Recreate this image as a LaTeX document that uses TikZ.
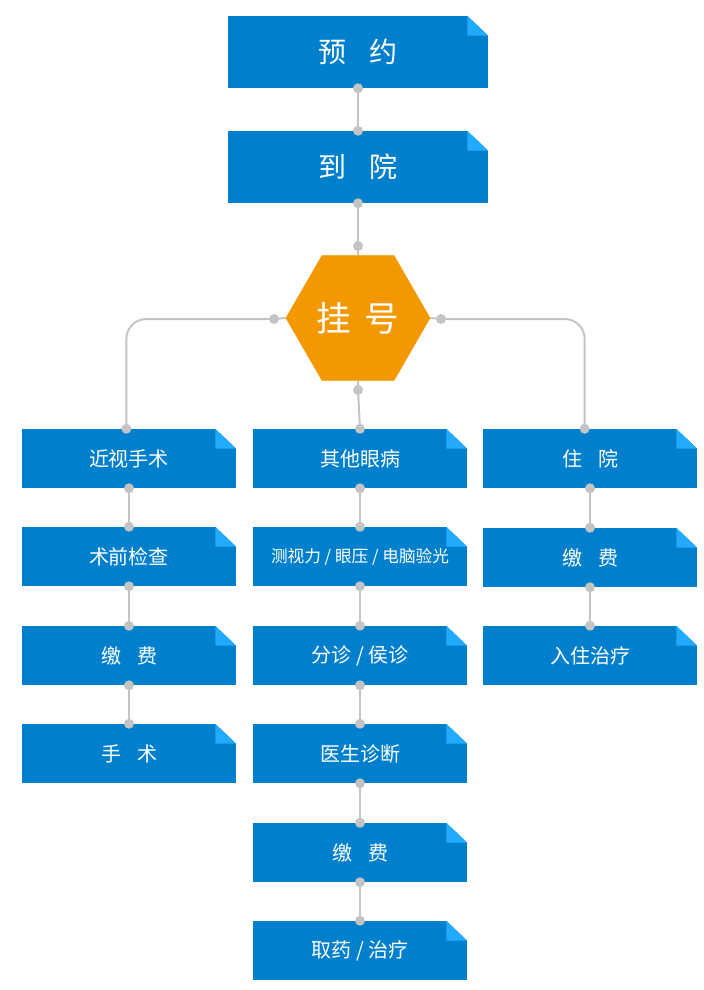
\documentclass[tikz,border=0pt]{standalone}
\usepackage{fontspec}
\setmainfont{Noto Sans CJK SC}
\usetikzlibrary{shapes.geometric}
\definecolor{boxblue}{HTML}{0080CC}
\definecolor{foldblue}{HTML}{22AAFF}
\definecolor{hexorange}{HTML}{F39800}
\definecolor{linkgray}{HTML}{C4C4C4}
\tikzset{
  box/.style={fill=boxblue, text=white, inner sep=0pt, minimum width=160.5pt, minimum height=44.25pt, font=\fontsize{15}{18}\selectfont},
  bigbox/.style={box, minimum width=195pt, minimum height=54pt, font=\fontsize{21}{24}\selectfont},
  hexa/.style={regular polygon, regular polygon sides=6, fill=hexorange, text=white, inner sep=0pt, minimum size=108pt, font=\fontsize{26}{30}\selectfont},
  conn/.style={draw=linkgray, line width=1.5pt},
  dot/.style={fill=linkgray}
}
\newcommand\fold[1]{%
  \fill[white] ([xshift=-15.75pt]#1.north east) -- (#1.north east) -- ([yshift=-15pt]#1.north east) -- cycle;
  \fill[foldblue] ([xshift=-15.75pt]#1.north east) -- ([xshift=-15.75pt,yshift=-15pt]#1.north east) -- ([yshift=-15pt]#1.north east) -- cycle;}
\newcommand\link[2]{%
  \draw[conn] (#1) -- (#2);
  \fill[dot] (#1) circle (3.75pt) (#2) circle (3.75pt);}
\begin{document}
\begin{tikzpicture}[x=0.75pt, y=-0.75pt]
  \useasboundingbox (0,0) rectangle (704,990);
  % top part
  \node[bigbox] (yuyue) at (358,52) {预\hspace{0.8em}约};
  \node[bigbox] (daoyuan) at (358,167) {到\hspace{0.8em}院};
  \node[hexa] (guahao) at (358,318) {挂\hspace{0.4em}号};
  \coordinate (gtop) at (358,246);
  \coordinate (gleft) at (274,319);
  \coordinate (gright) at (441,319);
  \coordinate (gbot) at (358,390);
  % left column
  \node[box] (l1) at (129,458.5) {近视手术};
  \node[box] (l2) at (129,556.5) {术前检查};
  \node[box] (l3) at (129,655.5) {缴\hspace{0.8em}费};
  \node[box] (l4) at (129,753.5) {手\hspace{0.8em}术};
  % middle column
  \node[box] (m1) at (360,458.5) {其他眼病};
  \node[box, font=\fontsize{12.5}{15}\selectfont] (m2) at (360,556.5) {测视力 / 眼压 / 电脑验光};
  \node[box] (m3) at (360,655.5) {分诊 / 侯诊};
  \node[box] (m4) at (360,753.5) {医生诊断};
  \node[box] (m5) at (360,852.5) {缴\hspace{0.8em}费};
  \node[box] (m6) at (360,950.5) {取药 / 治疗};
  % right column
  \node[box] (r1) at (590,458.5) {住\hspace{0.8em}院};
  \node[box] (r2) at (590,557.5) {缴\hspace{0.8em}费};
  \node[box] (r3) at (590,655.5) {入住治疗};
  \foreach \n in {yuyue,daoyuan,l1,l2,l3,l4,m1,m2,m3,m4,m5,m6,r1,r2,r3}
    {\fold{\n}}
  % connectors
  \link{yuyue.south}{daoyuan.north}
  \link{daoyuan.south}{gtop}
  \draw[conn] (gtop) -- (guahao.north);
  \draw[conn] (gbot) -- (guahao.south);
  \link{gbot}{m1.north}
  \draw[conn, rounded corners=15pt] (gleft) -| ([xshift=-2pt]l1.north);
  \draw[conn] (gleft) -- (guahao.west);
  \fill[dot] (gleft) circle (3.75pt) ([xshift=-2pt]l1.north) circle (3.75pt);
  \draw[conn, rounded corners=15pt] (gright) -| ([xshift=-4pt]r1.north);
  \draw[conn] (gright) -- (guahao.east);
  \fill[dot] (gright) circle (3.75pt) ([xshift=-4pt]r1.north) circle (3.75pt);
  \foreach \a/\b in {l1/l2,l2/l3,l3/l4,m1/m2,m2/m3,m3/m4,m4/m5,m5/m6,r1/r2,r2/r3}
    {\link{\a.south}{\b.north}}
  \fill[hexorange] (guahao.corner 1) -- (guahao.corner 2) -- (guahao.corner 3) -- (guahao.corner 4) -- (guahao.corner 5) -- (guahao.corner 6) -- cycle;
  \node[font=\fontsize{26}{30}\selectfont, text=white] at (guahao) {挂\hspace{0.4em}号};
\end{tikzpicture}
\end{document}
